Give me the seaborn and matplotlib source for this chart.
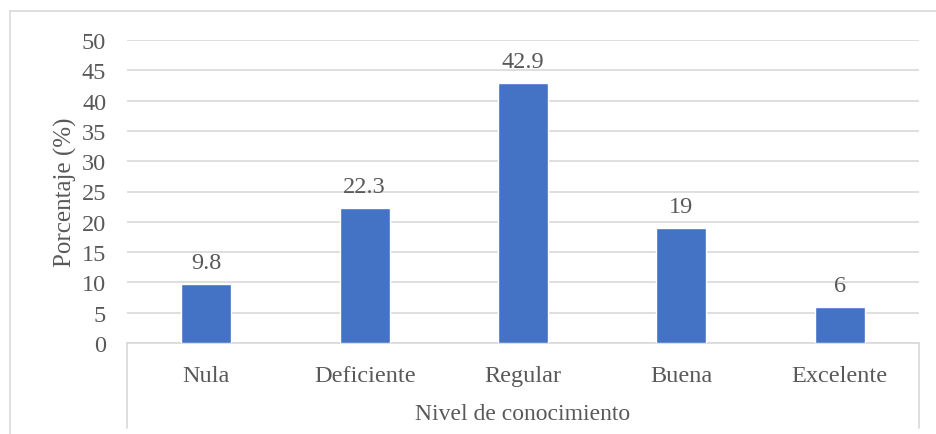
import matplotlib
matplotlib.use("Agg")
import matplotlib.pyplot as plt
from matplotlib.lines import Line2D
import seaborn as sns
import pandas as pd

categorias = ["Nula", "Deficiente", "Regular", "Buena", "Excelente"]
porcentajes = [9.8, 22.3, 42.9, 19, 6]
etiquetas = ["9.8", "22.3", "42.9", "19", "6"]
y_ticks = [0, 5, 10, 15, 20, 25, 30, 35, 40, 45, 50]

sns.set_theme(style="white")
plt.rcParams["font.family"] = ["Liberation Serif", "DejaVu Serif"]

TEXT = "#595959"
GRID = "#D9D9D9"
BAR = "#4472C4"

W, H = 936, 435
fig = plt.figure(figsize=(W / 100, H / 100), dpi=100)
ax = fig.add_axes([127 / W, (H - 344) / H, (919 - 127) / W, (344 - 41) / H])

df = pd.DataFrame({"cat": categorias, "val": porcentajes})
sns.barplot(data=df, x="cat", y="val", color=BAR, saturation=1, width=0.316, ax=ax, zorder=3)

ax.set_ylim(0, 50)
ax.set_xlim(-0.5, len(categorias) - 0.5)
ax.set_yticks(y_ticks)
ax.yaxis.grid(True, color=GRID, linewidth=1.2, zorder=0)
ax.set_axisbelow(True)
for s in ["top", "right", "left"]:
    ax.spines[s].set_visible(False)
ax.spines["bottom"].set_color(GRID)
ax.spines["bottom"].set_linewidth(1.2)

ax.tick_params(axis="y", length=0, pad=15, labelsize=17.5, labelcolor=TEXT)
ax.tick_params(axis="x", length=0, pad=16, labelsize=17.5, labelcolor=TEXT)

ax.set_ylabel("Porcentaje (%)", fontsize=18, color=TEXT, labelpad=3)
ax.set_xlabel("Nivel de conocimiento", fontsize=17, color=TEXT, labelpad=12)

for i, (v, t) in enumerate(zip(porcentajes, etiquetas)):
    ax.annotate(t, (i, v), xytext=(0, 8), textcoords="offset points",
                ha="center", va="bottom", fontsize=17.5, color=TEXT)

# category-axis box side lines
y_bot = (344 - 429) / (344 - 41)
for xa in (0, 1):
    ax.add_line(Line2D([xa, xa], [0, y_bot], transform=ax.transAxes,
                       color=GRID, linewidth=1.2, clip_on=False))

# outer chart border
fig.add_artist(Line2D([10 / W, 10 / W], [0, (H - 12) / H], transform=fig.transFigure,
                      color=GRID, linewidth=1.2))
fig.add_artist(Line2D([10 / W, 1], [(H - 12) / H, (H - 12) / H], transform=fig.transFigure,
                      color=GRID, linewidth=1.2))

fig.savefig("out.png", dpi=100, facecolor="white")
